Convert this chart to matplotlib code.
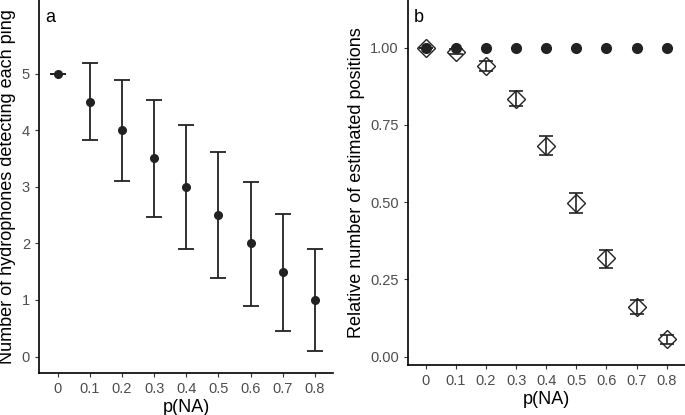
import matplotlib
matplotlib.use("Agg")
import matplotlib.pyplot as plt

plt.rcParams['font.family'] = ['Liberation Sans', 'DejaVu Sans']

# Data
p_na = [0, 0.1, 0.2, 0.3, 0.4, 0.5, 0.6, 0.7, 0.8]
tick_labels = ["0", "0.1", "0.2", "0.3", "0.4", "0.5", "0.6", "0.7", "0.8"]

# Panel a: hydrophones detecting each ping
hyd_mean = [5, 4.5, 4.0, 3.5, 3.0, 2.5, 2.0, 1.5, 1.0]
hyd_upper = [5, 5.18, 4.89, 4.53, 4.09, 3.62, 3.09, 2.52, 1.90]
hyd_lower = [5, 3.83, 3.10, 2.47, 1.90, 1.38, 0.90, 0.46, 0.10]

# Panel b: relative number of estimated positions
full_rel = [1, 1, 1, 1, 1, 1, 1, 1, 1]
est_rel = [1.0, 0.987, 0.942, 0.835, 0.683, 0.498, 0.318, 0.160, 0.056]
est_upper = [1.0, 0.995, 0.957, 0.858, 0.713, 0.530, 0.346, 0.183, 0.070]
est_lower = [1.0, 0.980, 0.925, 0.811, 0.654, 0.466, 0.288, 0.137, 0.042]

W, H = 685, 415
fig = plt.figure(figsize=(W / 100, H / 100), dpi=100)

def frac(l, r, b, t):
    return [l / W, 1 - b / H, (r - l) / W, (b - t) / H]

axa = fig.add_axes(frac(39, 333, 373, 0))
axb = fig.add_axes(frac(408, 685, 365, 0))

ecol = '#222222'
for ax in (axa, axb):
    for s in ('top', 'right'):
        ax.spines[s].set_visible(False)
    for s in ('left', 'bottom'):
        ax.spines[s].set_linewidth(1.2)
        ax.spines[s].set_color('black')
    ax.tick_params(axis='both', labelsize=10.5, labelcolor='#4d4d4d',
                   color='#333333', length=3, width=0.8)
    ax.set_xticks(p_na)
    ax.set_xticklabels(tick_labels)
    ax.set_xlabel('p(NA)', fontsize=13, labelpad=2)

# Panel a
yerr_a = [[m - lo for m, lo in zip(hyd_mean, hyd_lower)],
          [u - m for m, u in zip(hyd_mean, hyd_upper)]]
axa.errorbar(p_na, hyd_mean, yerr=yerr_a, fmt='o', color=ecol, ecolor=ecol,
             markersize=5.5, capsize=6, elinewidth=1.3, capthick=1.3)
axa.set_xlim(-0.058, 0.856)
axa.set_ylim(-0.29, 6.30)
axa.set_yticks([0, 1, 2, 3, 4, 5])
axa.set_ylabel('Number of hydrophones detecting each ping', fontsize=13, labelpad=4)
axa.text(0.02, 0.975, 'a', transform=axa.transAxes, fontsize=13, va='top', ha='left')

# Panel b
yerr_b = [[m - lo for m, lo in zip(est_rel, est_lower)],
          [u - m for m, u in zip(est_rel, est_upper)]]
axb.errorbar(p_na, est_rel, yerr=yerr_b, fmt='none', ecolor=ecol,
             capsize=5, elinewidth=1.2, capthick=1.2, zorder=2)
axb.plot(p_na, est_rel, linestyle='none', marker='D', markersize=9,
         markerfacecolor='none', markeredgecolor=ecol, markeredgewidth=1.0, zorder=3)
axb.plot(p_na, full_rel, linestyle='none', marker='o', markersize=7,
         color=ecol, zorder=4)
axb.set_xlim(-0.059, 0.861)
axb.set_ylim(-0.027, 1.154)
axb.set_yticks([0, 0.25, 0.5, 0.75, 1.0])
axb.set_yticklabels(['0.00', '0.25', '0.50', '0.75', '1.00'])
axb.set_ylabel('Relative number of estimated positions', fontsize=13, labelpad=4)
axb.text(0.02, 0.975, 'b', transform=axb.transAxes, fontsize=13, va='top', ha='left')

fig.savefig('out.png', dpi=100)
